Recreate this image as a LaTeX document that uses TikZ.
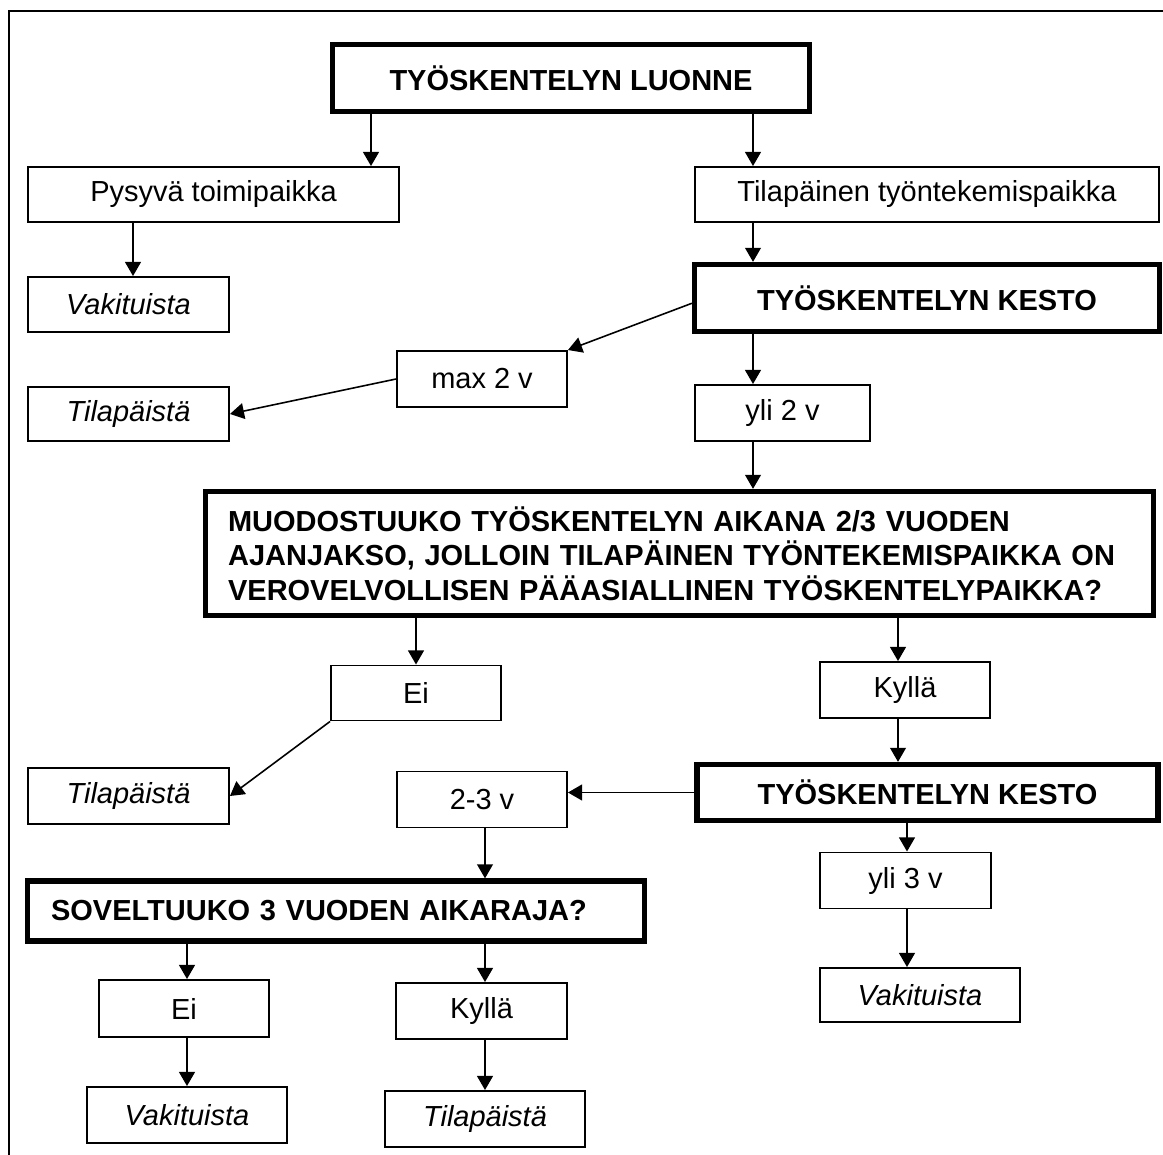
\documentclass[tikz,border=0pt]{standalone}
\usepackage{fontspec}
\setmainfont{Liberation Sans}
\usetikzlibrary{
    arrows.meta,
    positioning
}
\tikzset{
    box/.style={draw, line width=1.1pt, minimum height=1.1cm, inner sep=0pt, align=center,
        font=\fontsize{16.5}{19.6}\selectfont},
    bigbox/.style={box, line width=3pt, font=\fontsize{16.5}{19.6}\selectfont\bfseries},
    result/.style={box, font=\fontsize{16.5}{19.6}\selectfont\itshape},
    arr/.style={-{Triangle[length=8pt,width=9pt]}, line width=0.9pt}
}

\begin{document}
\begin{tikzpicture}[x=0.02cm, y=-0.02cm]
                        \useasboundingbox (0,0) rectangle (1163,1155);
                        \draw[line width=1.1pt] (9,1155) -- (9,11) -- (1163,11);
                        % columns of the vertical arrows
                        \coordinate (c1) at (133,0);
                        \coordinate (c2) at (371,0);
                        \coordinate (c3) at (753,0);
                        \coordinate (c4) at (898,0);
                        \coordinate (c5) at (907,0);
                        \coordinate (c6) at (485,0);
                        \coordinate (c7) at (187,0);
                        % boxes
                        \node[bigbox, minimum width=9.55cm, minimum height=1.34cm] (luonne) at (571,78) {TYÖSKENTELYN LUONNE};
                        \node[box, minimum width=7.42cm] (pysyva) at (213.5,194.5) {Pysyvä toimipaikka};
                        \node[box, minimum width=9.28cm] (tilap) at (927,194.5) {Tilapäinen työntekemispaikka};
                        \node[result, minimum width=4.02cm] (vak1) at (128.5,304.5) {Vakituista};
                        \node[bigbox, minimum width=9.3cm, minimum height=1.34cm] (kesto1) at (927,298) {TYÖSKENTELYN KESTO};
                        \node[box, minimum width=3.4cm, minimum height=1.12cm] (max2) at (482,379) {max 2 v};
                        \node[result, minimum width=4.02cm, minimum height=1.08cm] (tilap1) at (128.5,414) {Tilapäistä};
                        \node[box, minimum width=3.5cm, minimum height=1.12cm] (yli2) at (782.5,413) {yli 2 v};
                        \node[bigbox, minimum width=18.95cm, minimum height=2.48cm, text width=18.06cm, align=left] (muod) at (679.5,553.5)
                            {MUODOSTUUKO TYÖSKENTELYN AIKANA 2/3 VUODEN\\AJANJAKSO, JOLLOIN TILAPÄINEN TYÖNTEKEMISPAIKKA ON\\VEROVELVOLLISEN PÄÄASIALLINEN TYÖSKENTELYPAIKKA?};
                        \node[box, minimum width=3.4cm] (ei1) at (416,693) {Ei};
                        \node[box, minimum width=3.4cm, minimum height=1.12cm] (kylla1) at (905,690) {Kyllä};
                        \node[result, minimum width=4.02cm, minimum height=1.12cm] (tilap2) at (128.5,796) {Tilapäistä};
                        \node[bigbox, minimum width=9.22cm, minimum height=1.12cm] (kesto2) at (927.5,792.5) {TYÖSKENTELYN KESTO};
                        \node[box, minimum width=3.4cm, minimum height=1.12cm] (v23) at (482,799.5) {2-3 v};
                        \node[bigbox, minimum width=12.34cm, minimum height=1.2cm, text width=11.4cm, align=left] (sovel) at (336,911) {SOVELTUUKO 3 VUODEN AIKARAJA?};
                        \node[box, minimum width=3.42cm, minimum height=1.12cm] (yli3) at (905.5,880.5) {yli 3 v};
                        \node[result, minimum width=4.0cm, minimum height=1.08cm] (vak3) at (920,995) {Vakituista};
                        \node[box, minimum width=3.4cm, minimum height=1.14cm] (ei2) at (184,1008.5) {Ei};
                        \node[box, minimum width=3.42cm, minimum height=1.12cm] (kylla2) at (481.5,1011) {Kyllä};
                        \node[result, minimum width=4.0cm, minimum height=1.12cm] (vak2) at (187,1115) {Vakituista};
                        \node[result, minimum width=4.0cm, minimum height=1.12cm] (tilap3) at (485,1119) {Tilapäistä};
                        % arrows
                        \draw[arr] (luonne.south -| c2) -- (pysyva.north -| c2);
                        \draw[arr] (luonne.south -| c3) -- (tilap.north -| c3);
                        \draw[arr] (pysyva.south -| c1) -- (vak1.north -| c1);
                        \draw[arr] (tilap.south -| c3) -- (kesto1.north -| c3);
                        \draw[arr] ([yshift=-3pt]kesto1.west) -- (max2.north east);
                        \draw[arr] (kesto1.south -| c3) -- (yli2.north -| c3);
                        \draw[arr] (max2.west) -- (tilap1.east);
                        \draw[arr] (yli2.south -| c3) -- (muod.north -| c3);
                        \draw[arr] (muod.south -| ei1.north) -- (ei1.north);
                        \draw[arr] (muod.south -| c4) -- (kylla1.north -| c4);
                        \draw[arr] (ei1.south west) -- (tilap2.east);
                        \draw[arr] (kylla1.south -| c4) -- (kesto2.north -| c4);
                        \draw[arr] (kesto2.west) -- (kesto2.west -| v23.east);
                        \draw[arr] (kesto2.south -| c5) -- (yli3.north -| c5);
                        \draw[arr] (yli3.south -| c5) -- (vak3.north -| c5);
                        \draw[arr] (v23.south -| c6) -- (sovel.north -| c6);
                        \draw[arr] (sovel.south -| c7) -- (ei2.north -| c7);
                        \draw[arr] (sovel.south -| c6) -- (kylla2.north -| c6);
                        \draw[arr] (ei2.south -| c7) -- (vak2.north -| c7);
                        \draw[arr] (kylla2.south -| c6) -- (tilap3.north -| c6);
                    \end{tikzpicture}
\end{document}
